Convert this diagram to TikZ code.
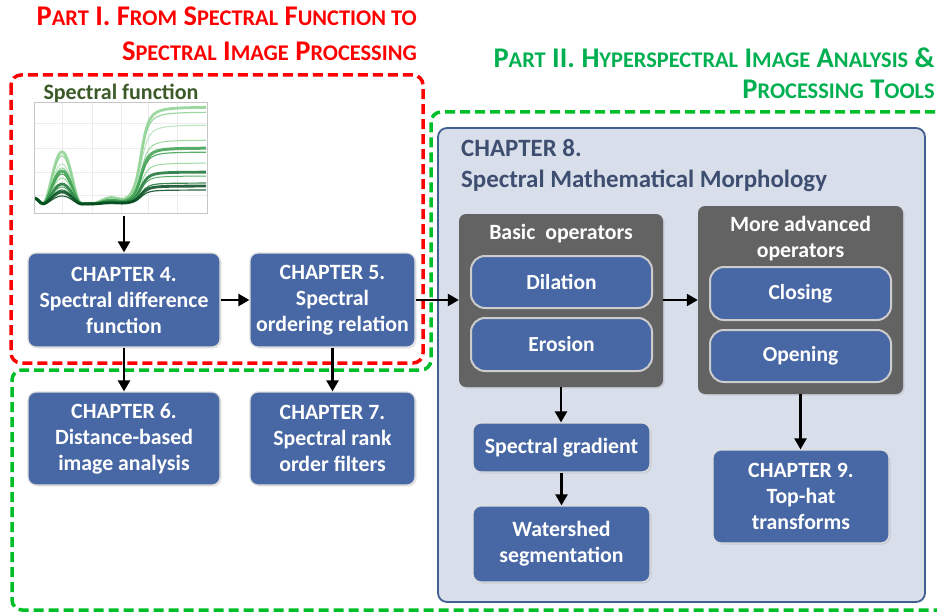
\documentclass[tikz,border=0pt]{standalone}
\usepackage{fontspec}
\setmainfont{Carlito}
\usetikzlibrary{arrows.meta,shadows}

\definecolor{chapblue}{RGB}{72,104,165}
\definecolor{chapbg}{RGB}{216,222,234}
\definecolor{chapedge}{RGB}{65,95,145}
\definecolor{chaptext}{RGB}{62,78,112}
\definecolor{opgrey}{RGB}{99,99,99}
\definecolor{partred}{RGB}{255,0,0}
\definecolor{partgreen}{RGB}{0,176,80}
\definecolor{dashgreen}{RGB}{0,190,40}
\definecolor{labelgreen}{RGB}{60,90,40}
\definecolor{specA}{RGB}{140,210,145}
\definecolor{specB}{RGB}{60,160,80}
\definecolor{specC}{RGB}{25,115,55}
\definecolor{specD}{RGB}{5,75,30}

% small capitals, drawn by hand
\newcommand{\smc}[1]{{\fontsize{22.4}{28}\selectfont #1}}

\tikzset{
  chapter/.style={rectangle, rounded corners=8pt, fill=chapblue, draw=gray!25,
    line width=1.2pt, text=white, align=center, inner sep=0pt,
    font=\bfseries\fontsize{21.8}{26}\selectfont,
    drop shadow={opacity=0.2, shadow xshift=1.5pt, shadow yshift=-1.5pt}},
  opbox/.style={rectangle, rounded corners=14pt, fill=chapblue, draw=gray!40,
    line width=2pt, text=white, inner sep=0pt,
    font=\bfseries\fontsize{21.5}{26}\selectfont},
  greybox/.style={rectangle, rounded corners=7pt, fill=opgrey, inner sep=0pt,
    drop shadow={opacity=0.2, shadow xshift=1.5pt, shadow yshift=-1.5pt}},
  greytitle/.style={text=white, inner sep=0pt, font=\bfseries\fontsize{21.8}{26}\selectfont},
  flow/.style={-{Triangle[length=11pt,width=12pt]}, line width=2.4pt},
  partbox/.style={line width=3.5pt, dash pattern=on 10pt off 5pt, rounded corners=10pt},
}

\begin{document}
\begin{tikzpicture}[x=1pt, y=-1pt,
  declare function={
    bq(\xx,\cc,\ww)=max(0,1-((\xx-\cc)/\ww)*((\xx-\cc)/\ww));
    bmp(\xx,\cc,\ww)=bq(\xx,\cc,\ww)*bq(\xx,\cc,\ww);
    sig(\xx)=0.5+0.5*((\xx-141)/8)/sqrt(1+((\xx-141)/8)*((\xx-141)/8));
    spec(\xx,\pk,\hh)=204-6*bmp(\xx,34,9)-\pk*bmp(\xx,62,19)-0.05*\hh*bmp(\xx,110,16)-\hh*sig(\xx);
  }]
\useasboundingbox (0,0) rectangle (937,615);

% Part titles
\node[anchor=north east, align=right, inner sep=0pt, text=partred,
  font=\bfseries\fontsize{28.5}{34.5}\selectfont] (part1) at (417,7)
  {P\smc{ART} I. F\smc{ROM} S\smc{PECTRAL} F\smc{UNCTION TO}\\
   S\smc{PECTRAL} I\smc{MAGE} P\smc{ROCESSING}};
\node[anchor=north east, align=right, inner sep=0pt, text=partgreen,
  font=\bfseries\fontsize{28.5}{31}\selectfont] (part2) at (935,48)
  {P\smc{ART} II. H\smc{YPERSPECTRAL} I\smc{MAGE} A\smc{NALYSIS} \&\\
   P\smc{ROCESSING} T\smc{OOLS}};

% Part borders
\draw[partbox, dashgreen] (950,112) -- (431,112) -- (431,370) -- (12,370) -- (12,610) -- (950,610);
\draw[partbox, partred] (11,75) rectangle (423,363);

% Spectral function plot
\node[text=labelgreen, inner sep=0pt, font=\bfseries\fontsize{22}{26}\selectfont] (speclabel) at (121,93) {Spectral function};
\fill[white] (34,102) rectangle (207,213);
\foreach \gx in {62,92,121,148,177}
  \draw[gray!15, line width=0.6pt] (\gx,102) -- (\gx,213);
\foreach \gy in {123,148,172,195}
  \draw[gray!15, line width=0.6pt] (34,\gy) -- (207,\gy);
\foreach \pk/\hh/\col/\lw in {52/97/specA/2.8, 48/92/specA/1.2, 40/79/specA!70/1, 36/64/specA/1,
    33/56/specB/3, 30/52/specB/1.2, 26/41/specA/1, 20/32/specC/2.8,
    17/28/specB/1, 14/21/specC/1.2, 12/18/specD/2.8, 8/14/specD/1.2}
  \draw[\col, line width=\lw pt, opacity=0.85, line join=round]
    plot[smooth, domain=35:206, samples=60] (\x, {spec(\x,\pk,\hh)});
\draw[gray!45, line width=0.8pt] (34,102) rectangle (207,213);
\coordinate (plotbot) at (124,216);

% Part I chapters
\node[chapter, minimum width=192pt, minimum height=94pt] (ch4) at (124,300)
  {CHAPTER 4.\\Spectral difference\\function};
\node[chapter, minimum width=165pt, minimum height=94pt] (ch5) at (332.5,300)
  {CHAPTER 5.\\Spectral\\ordering relation};
\node[chapter, minimum width=192pt, minimum height=93pt] (ch6) at (124,438.5)
  {CHAPTER 6.\\Distance-based\\image analysis};
\node[chapter, minimum width=165pt, minimum height=93pt] (ch7) at (332.5,438.5)
  {CHAPTER 7.\\Spectral rank\\order filters};

% Chapter 8 panel
\node[rectangle, rounded corners=9pt, fill=chapbg, draw=chapedge, line width=1.8pt,
  minimum width=487pt, minimum height=474pt] (ch8) at (681.5,365) {};
\node[anchor=base west, inner sep=0pt, text=chaptext, font=\bfseries\fontsize{24.9}{30}\selectfont] (ch8a) at (461,157) {CHAPTER 8.};
\node[anchor=base west, inner sep=0pt, text=chaptext, font=\bfseries\fontsize{24.9}{30}\selectfont] (ch8b) at (461,187) {Spectral Mathematical Morphology};

% Operator groups
\node[greybox, minimum width=204pt, minimum height=173pt] (basic) at (561,300.5) {};
\node[greytitle, anchor=base] (basict) at (561,239) {Basic~~operators};
\node[opbox, minimum width=181pt, minimum height=52pt] (dil) at (561.5,282) {Dilation};
\node[opbox, minimum width=181pt, minimum height=53pt] (ero) at (561.5,344.5) {Erosion};

\node[greybox, minimum width=205pt, minimum height=188pt] (adv) at (800.5,300) {};
\node[greytitle, anchor=base] (advt1) at (800.5,231) {More advanced};
\node[greytitle, anchor=base] (advt2) at (800.5,257) {operators};
\node[opbox, minimum width=181pt, minimum height=53pt] (clo) at (800.5,293.5) {Closing};
\node[opbox, minimum width=181pt, minimum height=52pt] (ope) at (800.5,356) {Opening};

% Results
\node[chapter, minimum width=177pt, minimum height=49pt] (grad) at (561.5,447.5) {Spectral gradient};
\node[chapter, minimum width=177pt, minimum height=76pt] (wat) at (561.5,544) {Watershed\\segmentation};
\node[chapter, minimum width=176pt, minimum height=93pt] (ch9) at (801,496.5)
  {CHAPTER 9.\\Top-hat\\transforms};

% Arrows
\draw[flow] (plotbot) -- (ch4.north);
\draw[flow] (ch4) -- (ch5);
\draw[flow] (ch4) -- (ch6);
\draw[flow] (ch5) -- (ch7);
\draw[flow] (ch5.east) -- (ch5.east -| basic.west);
\draw[flow] (basic.east |- adv.west) -- (adv.west);
\draw[flow] (basic.south) -- (basic.south |- grad.north);
\draw[flow] (grad) -- (wat);
\draw[flow] (adv.south) -- (adv.south |- ch9.north);
\end{tikzpicture}
\end{document}
